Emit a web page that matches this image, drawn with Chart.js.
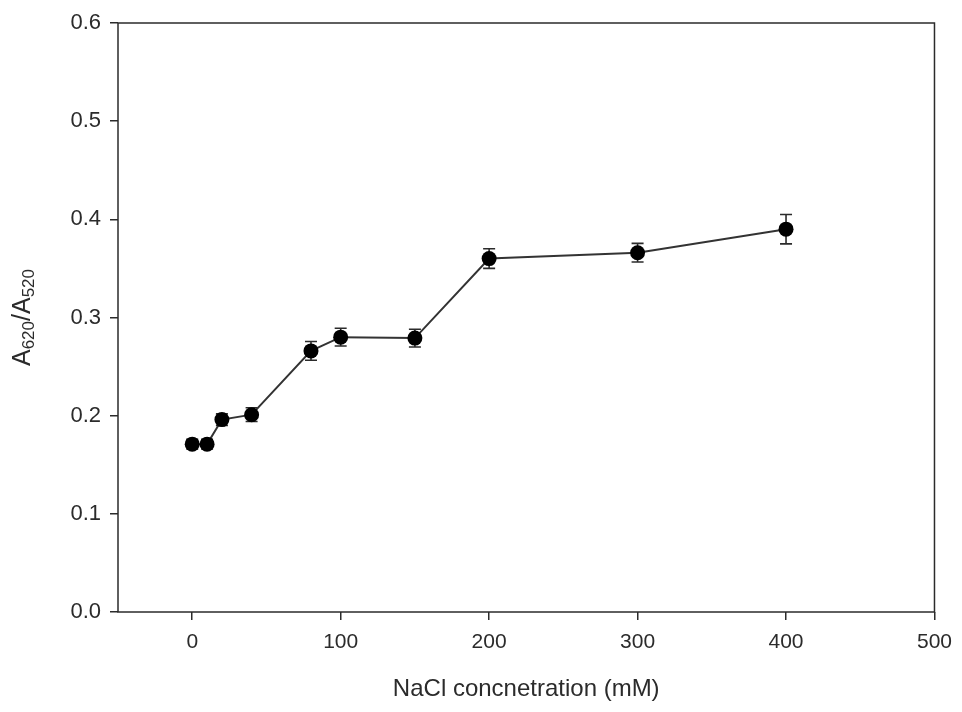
<!DOCTYPE html>
<html>
<head>
<meta charset="utf-8">
<script src="https://cdn.jsdelivr.net/npm/chart.js@4/dist/chart.umd.min.js"></script>
<style>
  html, body { margin: 0; background: #fff; }
  #wrap { width: 962px; height: 712px; }
</style>
</head>
<body>
<div id="wrap"><canvas id="salt-chart"></canvas></div>
<script>
// NaCl concentration (mM) vs A620/A520
const nacl = [0, 10, 20, 40, 80, 100, 150, 200, 300, 400];
const ratio = [0.171, 0.171, 0.196, 0.201, 0.266, 0.280, 0.279, 0.360, 0.366, 0.390];
const ratioErr = [0.005, 0.005, 0.006, 0.007, 0.0095, 0.009, 0.009, 0.010, 0.0095, 0.015];
const xTicks = [0, 100, 200, 300, 400, 500];
const yTicks = [0, 0.1, 0.2, 0.3, 0.4, 0.5, 0.6];

const ink = '#2b2b2b';
const fontFam = '"Liberation Sans", Arial, sans-serif';

// error bars + box frame + y title with subscripts
const extras = {
  id: 'extras',
  beforeDatasetsDraw(chart) {
    const ctx = chart.ctx;
    const xs = chart.scales.x, ys = chart.scales.y;
    ctx.save();
    ctx.strokeStyle = ink;
    ctx.lineWidth = 1.6;
    nacl.forEach((n, i) => {
      const px = xs.getPixelForValue(n);
      const top = ys.getPixelForValue(ratio[i] + ratioErr[i]);
      const bot = ys.getPixelForValue(ratio[i] - ratioErr[i]);
      ctx.beginPath();
      ctx.moveTo(px, top); ctx.lineTo(px, bot);
      ctx.moveTo(px - 6, top); ctx.lineTo(px + 6, top);
      ctx.moveTo(px - 6, bot); ctx.lineTo(px + 6, bot);
      ctx.stroke();
    });
    ctx.restore();
  },
  afterDraw(chart) {
    const ctx = chart.ctx;
    const a = chart.chartArea;
    ctx.save();
    ctx.strokeStyle = ink;
    ctx.lineWidth = 1.5;
    ctx.strokeRect(a.left, a.top, a.right - a.left, a.bottom - a.top);

    // y title: A620/A520
    ctx.translate(23, (a.top + a.bottom) / 2);
    ctx.rotate(-Math.PI / 2);
    ctx.fillStyle = ink;
    ctx.textBaseline = 'middle';
    const parts = [['A', 25, 0], ['620', 17, 6], ['/A', 25, 0], ['520', 17, 6]];
    let w = 0;
    parts.forEach(p => { ctx.font = p[1] + 'px ' + fontFam; w += ctx.measureText(p[0]).width; });
    let x = -w / 2;
    parts.forEach(p => {
      ctx.font = p[1] + 'px ' + fontFam;
      ctx.fillText(p[0], x, p[2]);
      x += ctx.measureText(p[0]).width;
    });
    ctx.restore();
  }
};

new Chart(document.getElementById('salt-chart'), {
  type: 'line',
  data: {
    datasets: [{
      data: nacl.map((n, i) => ({ x: n, y: ratio[i] })),
      borderColor: '#333',
      borderWidth: 2,
      pointRadius: 7.5,
      pointBackgroundColor: '#000',
      pointBorderColor: '#000',
      pointBorderWidth: 0,
      tension: 0
    }]
  },
  options: {
    responsive: true,
    maintainAspectRatio: false,
    animation: false,
    layout: { padding: { top: 23, right: 25, left: 0, bottom: 0 } },
    plugins: { legend: { display: false }, tooltip: { enabled: false } },
    scales: {
      x: {
        type: 'linear',
        min: -50,
        max: 500,
        afterBuildTicks: s => { s.ticks = xTicks.map(v => ({ value: v })); },
        afterFit: s => { s.height = 100; },
        grid: { drawOnChartArea: false, drawTicks: true, tickLength: 8, color: ink, lineWidth: 1.5 },
        border: { display: false },
        ticks: { color: ink, padding: 10, maxRotation: 0, font: { family: fontFam, size: 21 } },
        title: {
          display: true,
          text: 'NaCl concnetration (mM)',
          color: ink,
          padding: { top: 4, bottom: 8 },
          font: { family: fontFam, size: 24 }
        }
      },
      y: {
        min: 0,
        max: 0.6,
        afterBuildTicks: s => { s.ticks = yTicks.map(v => ({ value: v })); },
        afterFit: s => { s.width = 118; },
        grid: { drawOnChartArea: false, drawTicks: true, tickLength: 8, color: ink, lineWidth: 1.5 },
        border: { display: false },
        ticks: {
          color: ink,
          padding: 9,
          font: { family: fontFam, size: 22 },
          callback: v => v.toFixed(1)
        }
      }
    }
  },
  plugins: [extras]
});
</script>
</body>
</html>
